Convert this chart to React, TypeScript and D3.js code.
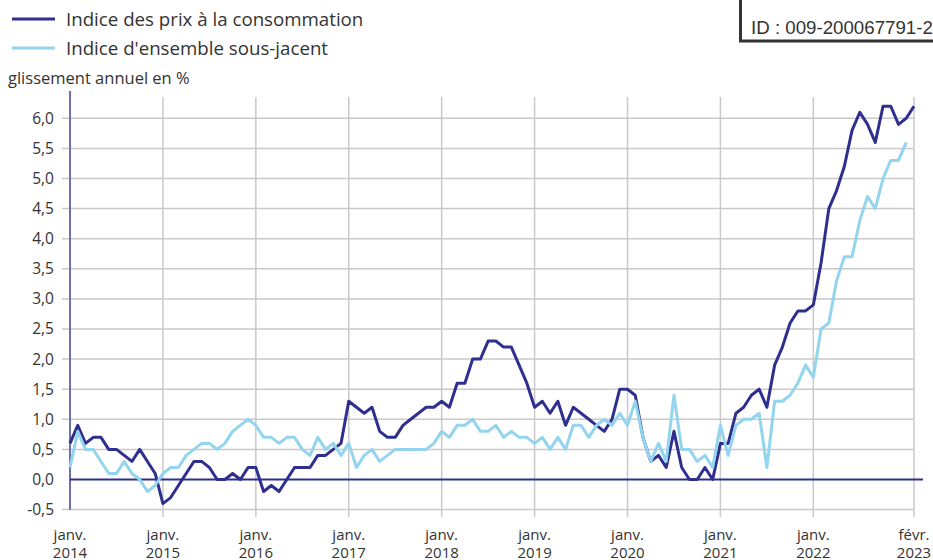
import React from 'react';
import * as d3 from 'd3';

// glissement annuel en %, monthly, janv. 2014 -> févr. 2023
const cpi = [
  0.6, 0.9, 0.6, 0.7, 0.7, 0.5, 0.5, 0.4, 0.3, 0.5, 0.3, 0.1,
  -0.4, -0.3, -0.1, 0.1, 0.3, 0.3, 0.2, 0.0, 0.0, 0.1, 0.0, 0.2,
  0.2, -0.2, -0.1, -0.2, 0.0, 0.2, 0.2, 0.2, 0.4, 0.4, 0.5, 0.6,
  1.3, 1.2, 1.1, 1.2, 0.8, 0.7, 0.7, 0.9, 1.0, 1.1, 1.2, 1.2,
  1.3, 1.2, 1.6, 1.6, 2.0, 2.0, 2.3, 2.3, 2.2, 2.2, 1.9, 1.6,
  1.2, 1.3, 1.1, 1.3, 0.9, 1.2, 1.1, 1.0, 0.9, 0.8, 1.0, 1.5,
  1.5, 1.4, 0.7, 0.3, 0.4, 0.2, 0.8, 0.2, 0.0, 0.0, 0.2, 0.0,
  0.6, 0.6, 1.1, 1.2, 1.4, 1.5, 1.2, 1.9, 2.2, 2.6, 2.8, 2.8,
  2.9, 3.6, 4.5, 4.8, 5.2, 5.8, 6.1, 5.9, 5.6, 6.2, 6.2, 5.9,
  6.0, 6.2,
];

// sous-jacent stops at janv. 2023
const core = [
  0.2, 0.8, 0.5, 0.5, 0.3, 0.1, 0.1, 0.3, 0.1, 0.0, -0.2, -0.1,
  0.1, 0.2, 0.2, 0.4, 0.5, 0.6, 0.6, 0.5, 0.6, 0.8, 0.9, 1.0,
  0.9, 0.7, 0.7, 0.6, 0.7, 0.7, 0.5, 0.4, 0.7, 0.5, 0.6, 0.4,
  0.6, 0.2, 0.4, 0.5, 0.3, 0.4, 0.5, 0.5, 0.5, 0.5, 0.5, 0.6,
  0.8, 0.7, 0.9, 0.9, 1.0, 0.8, 0.8, 0.9, 0.7, 0.8, 0.7, 0.7,
  0.6, 0.7, 0.5, 0.7, 0.5, 0.9, 0.9, 0.7, 0.9, 1.0, 0.9, 1.1,
  0.9, 1.3, 0.7, 0.3, 0.6, 0.3, 1.4, 0.5, 0.5, 0.3, 0.4, 0.2,
  0.9, 0.4, 0.9, 1.0, 1.0, 1.1, 0.2, 1.3, 1.3, 1.4, 1.6, 1.9,
  1.7, 2.5, 2.6, 3.3, 3.7, 3.7, 4.3, 4.7, 4.5, 5.0, 5.3, 5.3,
  5.6,
];

const seriesNames = ['Indice des prix à la consommation', "Indice d'ensemble sous-jacent"];
const seriesColors = ['#2e2f8f', '#93d4ee'];

const xTickMonths = [0, 12, 24, 36, 48, 60, 72, 84, 96, 109];
const xTickTop = ['janv.', 'janv.', 'janv.', 'janv.', 'janv.', 'janv.', 'janv.', 'janv.', 'janv.', 'févr.'];
const xTickBottom = ['2014', '2015', '2016', '2017', '2018', '2019', '2020', '2021', '2022', '2023'];

const yTicks = d3.range(-0.5, 6.01, 0.5);

const font = '"Open Sans", sans-serif';
const textColor = '#333';

export default function App() {
  const width = 933;
  const height = 560;

  const x = d3.scaleLinear().domain([0, 109]).range([70, 914]);
  const y = d3.scaleLinear().domain([-0.5, 6]).range([509.6, 118.3]);

  const line = d3.line<number>()
    .x((d, i) => x(i))
    .y(d => y(d));

  const fmt = (v: number) => d3.format('.1f')(v).replace('.', ',').replace('−', '-');

  return (
    <svg width={width} height={height} style={{ position: 'absolute', left: 0, top: 0, background: '#fff' }}
      fontFamily={font}>
      {/* legend */}
      {seriesNames.map((name, i) => (
        <g key={name} transform={`translate(0, ${19 + i * 29})`}>
          <line x1={12} x2={55} y1={0} y2={0} stroke={seriesColors[i]} strokeWidth={3} />
          <text x={66} y={6.5} fontSize={18.7} fill={textColor}>{name}</text>
        </g>
      ))}

      {/* ID box */}
      <rect x={740.5} y={-10} width={210} height={51} fill="#fff" stroke="#333" strokeWidth={3} />
      <text x={751} y={34} fontSize={18.7} fill="#333" fontFamily="'Liberation Sans', Arial, sans-serif">ID : 009-200067791-2</text>

      <text x={8} y={84} fontSize={16.5} fill={textColor}>glissement annuel en %</text>

      {/* grid */}
      {yTicks.map(t => (
        <g key={t}>
          {t !== 0 && <line x1={62} x2={914} y1={y(t)} y2={y(t)} stroke="#c9c9c9" strokeWidth={1.5} />}
          <text x={54} y={y(t)} dy="0.35em" textAnchor="end" fontSize={15.5} fill={textColor}>{fmt(t)}</text>
        </g>
      ))}
      {xTickMonths.map((m, i) => (
        <g key={m}>
          {i > 0 && <line x1={x(m)} x2={x(m)} y1={97} y2={517} stroke="#c9c9c9" strokeWidth={1.5} />}
          <text x={x(m)} y={540} textAnchor="middle" fontSize={15} fill={textColor}>
            <tspan x={x(m)}>{xTickTop[i]}</tspan>
            <tspan x={x(m)} dy={17.5}>{xTickBottom[i]}</tspan>
          </text>
        </g>
      ))}

      {/* axes */}
      <line x1={70} x2={70} y1={91} y2={510} stroke="#6e6eb4" strokeWidth={2} />
      <line x1={70} x2={923} y1={y(0)} y2={y(0)} stroke="#2e2f8f" strokeWidth={2} />

      {/* series */}
      <path d={line(cpi) || ''} fill="none" stroke={seriesColors[0]} strokeWidth={3} strokeLinejoin="round" />
      <path d={line(core) || ''} fill="none" stroke={seriesColors[1]} strokeWidth={3} strokeLinejoin="round" />
    </svg>
  );
}
